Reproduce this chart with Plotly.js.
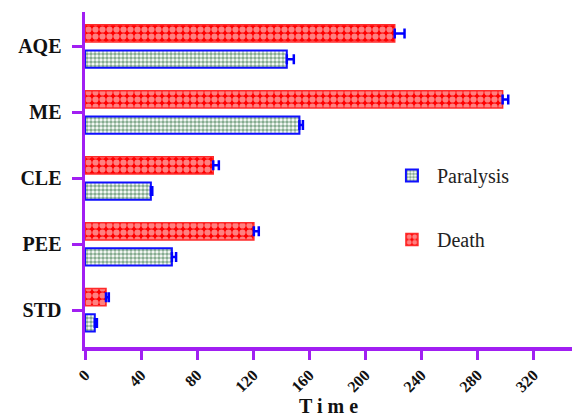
<!DOCTYPE html>
<html><head><meta charset="utf-8">
<script src="https://cdn.plot.ly/plotly-3.0.1.min.js"></script>
<style>html,body{margin:0;padding:0;background:#fff}#chart{width:572px;height:417px}</style>
</head><body><div id="chart"></div>
<script>
// categories bottom-to-top
const categories = ['STD', 'PEE', 'CLE', 'ME', 'AQE'];
const paralysis = [7, 62, 47, 153, 144];
const paralysisErr = [1.5, 3, 1, 2.5, 5];
const death = [15, 120.5, 91.5, 298, 221];
const deathErr = [2, 3.5, 4, 4, 7];
const zeros = [0, 0, 0, 0, 0];
const xTicks = [0, 40, 80, 120, 160, 200, 240, 280, 320];

const purple = '#a11ff2';
const fam = 'Liberation Serif';
const traces = [
  {
    type: 'bar', orientation: 'h', name: 'Paralysis', y: categories, x: paralysis,
    legendgroup: 'p',
    marker: {color: '#ffffff', line: {color: '#1010ff', width: 2},
      pattern: {shape: '.', fgcolor: '#0d5a22', bgcolor: '#ffffff', size: 4, solidity: 0.62, fillmode: 'overlay'}},
    error_x: {type: 'data', symmetric: false, array: paralysisErr, arrayminus: zeros, color: '#0000ff', thickness: 2.5, width: 5}
  },
  {
    type: 'bar', orientation: 'h', name: 'Death', y: categories, x: death,
    legendgroup: 'd',
    marker: {color: '#ff0000', line: {color: '#ff2a2a', width: 1.5},
      pattern: {shape: '.', fgcolor: '#ffffff', bgcolor: '#ff0000', size: 7, solidity: 0.62, fillmode: 'overlay'}},
    error_x: {type: 'data', symmetric: false, array: deathErr, arrayminus: zeros, color: '#0000ff', thickness: 2.5, width: 5}
  }
];

const layout = {
  width: 572, height: 417,
  margin: {l: 85, r: 0, t: 12, b: 70},
  paper_bgcolor: '#fff', plot_bgcolor: '#fff',
  barmode: 'group', bargap: 0.22, bargroupgap: 0.33,
  font: {family: fam, color: '#111'},
  showlegend: true,
  legend: {x: 0.62, y: 0.57, xanchor: 'left', yanchor: 'top', traceorder: 'grouped', tracegroupgap: 35,
    font: {size: 20, family: fam, color: '#222'}, bgcolor: 'rgba(0,0,0,0)', itemwidth: 40},
  xaxis: {
    range: [0, 347.5], tickvals: xTicks, ticktext: xTicks.map(String),
    showgrid: false, zeroline: false, showline: true, linecolor: purple, linewidth: 3.5,
    ticks: 'outside', ticklen: 9, tickwidth: 3, tickcolor: purple, tickangle: -45,
    tickfont: {size: 16, family: fam, color: '#111', weight: 'bold'},
    title: {text: '<b>T i m e</b>', font: {size: 20, family: fam, color: '#111'}, standoff: 2}
  },
  yaxis: {
    type: 'category', range: [-0.56, 4.52],
    showgrid: false, zeroline: false, showline: true, linecolor: purple, linewidth: 3.5,
    ticks: 'outside', ticklen: 10, tickwidth: 3, tickcolor: purple, ticklabelstandoff: 6,
    tickfont: {size: 20, family: fam, color: '#111', weight: 'bold'}
  }
};
Plotly.newPlot('chart', traces, layout, {displayModeBar: false, staticPlot: true});
</script></body></html>
